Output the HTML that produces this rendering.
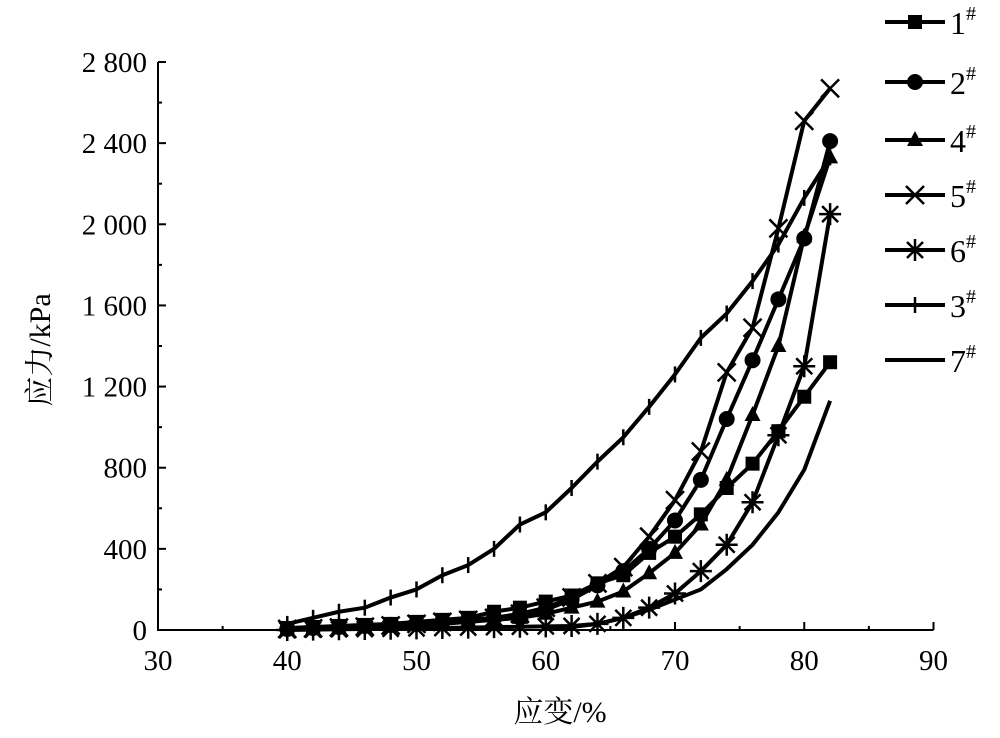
<!DOCTYPE html>
<html><head><meta charset="utf-8"><style>
body{margin:0;background:#fff}
svg text{font-family:"Liberation Serif","Noto Serif CJK SC",serif;fill:#000}
</style></head><body>
<svg id="c" width="1000" height="733" viewBox="0 0 1000 733"></svg>
<script>
const xs=[40,42,44,46,48,50,52,54,56,58,60,62,64,66,68,70,72,74,76,78,80,82];
const s1=[10,15,20,25,30,40,50,60,90,110,140,170,230,270,380,460,570,700,820,980,1150,1320];
const s2=[5,10,15,20,25,30,40,50,60,75,100,150,220,290,400,540,740,1040,1330,1630,1930,2410];
const s4=[3,6,10,14,18,24,30,40,50,60,80,110,140,190,280,380,520,740,1060,1400,1940,2330];
const s5=[5,8,12,16,22,30,40,50,60,80,110,160,230,310,460,640,880,1270,1490,1980,2510,2670];
const s6=[0,2,4,5,6,8,10,12,14,16,18,20,30,60,110,180,290,420,630,960,1300,2050];
const s3=[30,60,90,110,160,200,270,320,400,520,580,700,830,950,1100,1260,1440,1560,1720,1900,2130,2330];
const s7x=[60,62,64,66,68,70,72,74,76,78,80,82];
const s7=[5,15,30,60,100,150,200,300,420,580,790,1130];
const xTicks=[30,40,50,60,70,80,90];
const yTicks=[0,400,800,1200,1600,2000,2400,2800];
const yLabels=["0","400","800","1 200","1 600","2 000","2 400","2 800"];
const X=v=>158+(v-30)*(933.5-158)/60;
const Y=v=>630-v*(630-62)/2800;
const svg=document.getElementById('c');const NS='http://www.w3.org/2000/svg';
function el(t,a,p){const e=document.createElementNS(NS,t);for(const k in a)e.setAttribute(k,a[k]);(p||svg).appendChild(e);return e;}
let e=el('path',{d:`M${X(30)},${Y(2800)}V${Y(0)}H${X(90)}`,fill:'none',stroke:'#000','stroke-width':2});


xTicks.forEach(t=>{el('line',{x1:X(t),x2:X(t),y1:Y(0),y2:Y(0)-8,stroke:'#000','stroke-width':2});
 if(t<90)el('line',{x1:X(t+5),x2:X(t+5),y1:Y(0),y2:Y(0)-4,stroke:'#000','stroke-width':2});
 const tx=el('text',{x:X(t),y:Y(0)+40,'text-anchor':'middle','font-size':29});tx.textContent=t;
 
 });
yTicks.forEach((t,i)=>{el('line',{x1:X(30),x2:X(30)+8,y1:Y(t),y2:Y(t),stroke:'#000','stroke-width':2});
 if(t<2800)el('line',{x1:X(30),x2:X(30)+4,y1:Y(t+200),y2:Y(t+200),stroke:'#000','stroke-width':2});
 const tx=el('text',{x:147,y:Y(t)+10,'text-anchor':'end','font-size':29});tx.textContent=yLabels[i];
 
 });
let xt=el('text',{x:560,y:722,'text-anchor':'middle','font-size':30});xt.textContent='应变/%';


let yt=el('text',{x:0,y:0,'text-anchor':'middle','font-size':30,transform:'translate(50,350) rotate(-90)'});yt.textContent='应力/kPa';


function marker(type,x,y,g){
 if(type==='sq')el('rect',{x:x-7,y:y-7,width:14,height:14,fill:'#000'},g);
 else if(type==='ci')el('circle',{cx:x,cy:y,r:8,fill:'#000'},g);
 else if(type==='tr')el('path',{d:`M${x},${y-9}L${x+8},${y+6}L${x-8},${y+6}Z`,fill:'#000'},g);
 else if(type==='x')el('path',{d:`M${x-9},${y-9}L${x+9},${y+9}M${x+9},${y-9}L${x-9},${y+9}`,stroke:'#000','stroke-width':2.5},g);
 else if(type==='st')el('path',{d:`M${x-8},${y-8}L${x+8},${y+8}M${x+8},${y-8}L${x-8},${y+8}M${x-11},${y}H${x+11}M${x},${y-11}V${y+11}`,stroke:'#000','stroke-width':2.5},g);
 else if(type==='pl')el('path',{d:`M${x},${y-8}V${y+8}`,stroke:'#000','stroke-width':2.5},g);
}
const series=[['series-1',xs,s1,'sq'],['series-2',xs,s2,'ci'],['series-4',xs,s4,'tr'],['series-5',xs,s5,'x'],['series-6',xs,s6,'st'],['series-3',xs,s3,'pl'],['series-7',s7x,s7,null]];
series.forEach(([n,xv,yv,m])=>{const g=el('g',{});
 
 
 el('polyline',{points:xv.map((x,i)=>X(x)+','+Y(yv[i])).join(' '),fill:'none',stroke:'#000','stroke-width':4,'stroke-linejoin':'round'},g);
 if(m)xv.forEach((x,i)=>marker(m,X(x),Y(yv[i]),g));});
const legNames=['1','2','4','5','6','3','7'];const legM=['sq','ci','tr','x','st','pl',null];
const legY=[22,82,140,195,250,305,360];
legNames.forEach((n,i)=>{const g=el('g',{});
 
 
 el('line',{x1:885,x2:945,y1:legY[i],y2:legY[i],stroke:'#000','stroke-width':4},g);
 if(legM[i])marker(legM[i],915,legY[i],g);
 const t=el('text',{x:950,y:legY[i]+12,'font-size':32},g);t.textContent=n;
 const s=el('tspan',{dy:-14,'font-size':20},t);s.textContent='#';});
</script>
</body></html>
